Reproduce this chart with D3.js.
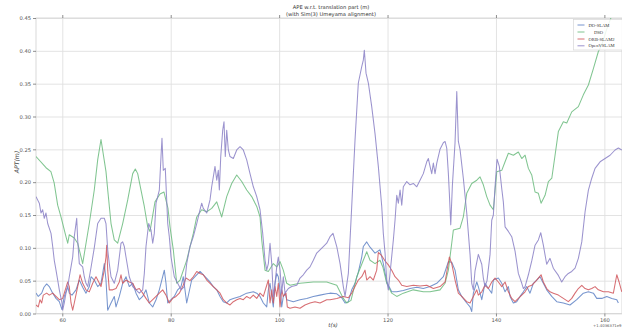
<!DOCTYPE html>
<html>
<head>
<meta charset="utf-8">
<script src="https://cdn.jsdelivr.net/npm/d3@7"></script>
<style>
  html, body { margin: 0; padding: 0; background: #fff; }
  svg { display: block; }
  text { font-family: "DejaVu Sans", sans-serif; }
</style>
</head>
<body>
<svg id="chart" width="622" height="328"></svg>
<script>
// ---- data: absolute pose error (m) over time (s), per method ----
const seriesNames = ["DO-SLAM", "DSO", "ORB-SLAM2", "OpenVSLAM"];
const xTicks = [60, 80, 100, 120, 140, 160];
const yTicks = [0, 0.05, 0.10, 0.15, 0.20, 0.25, 0.30, 0.35, 0.40, 0.45];

const doSlamT = [55.15,55.57,56.2,56.62,57.12,57.6,58.23,58.84,59.45,59.94,60.37,61.0,61.29,61.79,62.53,63.14,63.76,64.37,64.98,65.3,65.9,66.53,67.14,67.75,68.06,68.38,68.99,69.59,69.91,70.52,71.14,71.75,72.36,72.99,73.6,74.21,74.83,75.44,76.05,76.68,77.29,77.9,78.52,78.82,79.13,79.45,80.06,80.66,81.29,81.9,82.32,82.95,83.87,84.48,85.41,86.33,87.25,87.86,88.49,89.1,89.7,90.33,90.94,91.55,92.79,94.02,95.24,95.87,96.48,97.09,97.71,98.01,98.32,98.64,98.93,99.24,99.56,99.85,100.17,100.48,100.77,101.09,101.4,102.62,103.85,105.09,106.31,107.54,108.78,109.39,110.63,111.55,112.16,112.77,113.39,114.0,114.61,115.24,115.53,116.16,116.77,117.69,118.61,119.22,119.85,120.77,121.7,122.91,124.15,125.39,126.6,127.84,129.08,130.29,131.22,131.84,132.45,133.06,133.68,134.61,135.22,135.53,135.83,136.46,136.75,137.38,137.98,138.6,139.22,139.52,140.44,141.07,141.68,142.29,142.6,143.21,143.83,144.44,145.06,145.67,146.28,146.9,147.52,148.13,148.74,149.36,150.29,151.21,152.43,153.66,154.9,156.12,157.05,157.97,158.59,159.52,160.44,161.37,162.29,162.58];
const doSlamV = [0.031,0.026,0.031,0.040,0.045,0.041,0.031,0.023,0.018,0.006,0.026,0.041,0.031,0.028,0.036,0.051,0.040,0.031,0.041,0.056,0.051,0.041,0.046,0.076,0.051,0.005,0.016,0.026,0.010,0.026,0.046,0.056,0.041,0.046,0.031,0.021,0.026,0.036,0.016,0.010,0.021,0.036,0.056,0.066,0.046,0.016,0.021,0.026,0.036,0.041,0.056,0.016,0.051,0.056,0.064,0.056,0.048,0.041,0.036,0.026,0.018,0.016,0.021,0.023,0.026,0.031,0.033,0.031,0.026,0.016,0.010,0.036,0.046,0.026,0.010,0.046,0.061,0.056,0.036,0.010,0.026,0.031,0.021,0.018,0.021,0.023,0.026,0.028,0.030,0.031,0.030,0.024,0.016,0.018,0.036,0.046,0.063,0.086,0.102,0.109,0.101,0.092,0.097,0.076,0.048,0.033,0.033,0.035,0.038,0.040,0.038,0.041,0.046,0.056,0.079,0.078,0.066,0.036,0.026,0.016,0.010,0.003,0.031,0.048,0.041,0.021,0.046,0.038,0.031,0.051,0.054,0.046,0.033,0.041,0.026,0.016,0.018,0.026,0.033,0.041,0.031,0.046,0.051,0.056,0.046,0.036,0.026,0.018,0.016,0.013,0.021,0.031,0.033,0.031,0.023,0.023,0.026,0.023,0.021,0.016];

const dsoT = [55.15,57.0,57.9,58.5,59.15,59.76,60.68,61.0,61.29,62.21,62.84,63.14,63.76,64.98,65.9,66.53,67.14,68.06,68.38,68.99,69.59,70.22,71.14,72.07,72.99,73.47,73.91,74.52,75.13,75.76,76.18,77.1,78.02,78.76,79.5,79.87,80.48,81.11,81.72,82.95,84.17,84.8,85.72,86.64,87.56,88.49,89.41,90.33,91.25,92.18,93.1,94.02,94.94,95.87,96.48,96.79,97.4,98.01,98.93,99.56,100.17,100.77,101.4,102.01,103.85,106.31,108.78,110.63,111.84,112.47,113.26,114.32,115.53,116.16,116.77,117.69,118.61,119.17,119.85,120.77,121.7,122.91,124.76,126.6,127.84,129.68,130.61,131.22,131.84,132.14,133.37,133.98,134.61,135.53,136.46,137.06,137.67,138.3,138.91,139.52,140.15,141.07,141.68,142.29,143.21,144.13,144.76,145.37,145.98,146.6,147.21,147.82,148.32,149.06,149.67,150.3,150.9,151.51,152.43,153.06,153.98,155.2,156.12,157.05,157.97,158.89,159.52,160.31,161.42];
const dsoV = [0.239,0.222,0.216,0.199,0.165,0.147,0.117,0.107,0.120,0.115,0.107,0.097,0.076,0.137,0.188,0.234,0.265,0.216,0.188,0.137,0.112,0.107,0.137,0.173,0.213,0.220,0.213,0.188,0.163,0.132,0.125,0.170,0.182,0.185,0.160,0.132,0.097,0.046,0.051,0.081,0.122,0.147,0.158,0.155,0.160,0.170,0.147,0.178,0.198,0.211,0.201,0.188,0.178,0.163,0.147,0.112,0.066,0.064,0.076,0.071,0.079,0.066,0.046,0.043,0.046,0.048,0.048,0.043,0.023,0.016,0.020,0.056,0.081,0.094,0.081,0.076,0.081,0.070,0.046,0.031,0.026,0.031,0.036,0.033,0.033,0.036,0.046,0.066,0.107,0.127,0.130,0.147,0.183,0.198,0.203,0.208,0.196,0.178,0.165,0.158,0.216,0.218,0.231,0.244,0.241,0.246,0.236,0.241,0.221,0.211,0.185,0.183,0.168,0.180,0.201,0.206,0.241,0.277,0.292,0.290,0.307,0.315,0.333,0.348,0.373,0.399,0.409,0.430,0.455];

const orbT = [55.15,55.57,55.89,56.2,56.49,57.12,57.6,58.23,58.84,59.45,60.07,60.55,61.0,61.29,61.61,61.92,62.21,62.84,63.27,63.76,64.37,64.98,65.61,66.22,67.14,67.75,68.06,68.19,68.38,68.67,69.3,69.91,70.52,70.83,71.14,71.75,72.36,72.99,73.6,74.21,74.83,75.44,76.05,76.68,77.29,77.9,78.52,79.13,79.74,80.37,80.98,81.59,82.21,82.82,83.56,84.17,84.8,85.41,86.01,86.64,87.25,87.86,88.49,89.1,89.7,90.33,90.94,91.55,92.18,92.79,93.39,94.02,94.63,95.24,95.87,96.48,97.09,98.01,98.32,98.64,98.93,99.24,99.56,99.85,100.17,100.48,100.77,101.27,101.51,102.01,102.93,103.85,104.77,105.7,106.62,107.54,108.78,109.39,110.63,111.84,112.77,113.39,114.0,114.61,115.24,115.84,116.16,116.77,117.38,118.0,118.3,118.93,119.54,120.15,120.77,121.38,121.99,122.62,123.54,124.76,125.99,127.23,128.45,129.68,130.61,131.4,131.84,132.45,133.06,133.68,134.61,135.22,135.83,136.46,136.75,137.38,137.98,138.6,139.22,139.83,140.44,141.07,141.68,142.29,142.91,143.52,144.13,144.76,145.37,145.98,146.6,147.21,147.82,148.32,148.74,149.36,149.97,150.58,151.51,152.43,153.35,153.98,154.59,155.2,155.83,156.44,157.05,157.67,158.28,158.89,159.82,160.74,161.66,162.29,162.71,163.21];
const orbV = [0.013,0.010,0.021,0.016,0.028,0.031,0.028,0.031,0.026,0.021,0.023,0.036,0.048,0.041,0.016,0.005,0.016,0.041,0.059,0.046,0.036,0.033,0.046,0.056,0.041,0.066,0.086,0.104,0.066,0.036,0.036,0.038,0.048,0.059,0.046,0.051,0.048,0.046,0.036,0.038,0.031,0.023,0.016,0.021,0.026,0.031,0.036,0.028,0.016,0.023,0.026,0.031,0.041,0.054,0.050,0.056,0.064,0.061,0.059,0.051,0.046,0.041,0.036,0.031,0.021,0.016,0.013,0.018,0.021,0.023,0.021,0.026,0.023,0.028,0.023,0.031,0.026,0.051,0.016,0.036,0.016,0.041,0.026,0.046,0.010,0.036,0.026,0.031,0.010,0.008,0.010,0.008,0.013,0.016,0.018,0.016,0.021,0.021,0.023,0.026,0.024,0.031,0.041,0.051,0.056,0.066,0.051,0.056,0.051,0.066,0.093,0.088,0.080,0.074,0.066,0.056,0.051,0.043,0.041,0.043,0.042,0.043,0.038,0.041,0.048,0.086,0.076,0.051,0.031,0.026,0.018,0.016,0.026,0.036,0.028,0.033,0.043,0.038,0.048,0.054,0.048,0.041,0.048,0.033,0.023,0.018,0.023,0.028,0.033,0.041,0.043,0.048,0.054,0.059,0.048,0.038,0.033,0.031,0.028,0.023,0.018,0.023,0.031,0.038,0.043,0.038,0.036,0.038,0.041,0.036,0.033,0.033,0.031,0.059,0.048,0.033];

const ovT = [55.15,55.76,56.07,56.38,56.68,56.99,57.31,57.92,58.23,58.52,58.84,59.15,59.45,59.94,60.07,60.37,60.68,61.0,61.29,61.61,61.92,62.21,62.66,62.84,63.14,63.76,64.06,64.37,64.69,65.3,65.9,66.53,67.14,67.75,68.06,68.38,68.67,68.99,69.59,70.22,70.83,71.14,71.44,71.75,72.36,72.99,73.6,74.21,74.83,75.13,75.44,75.94,76.37,76.68,76.97,77.29,77.6,77.9,78.21,78.39,78.63,79.0,79.45,79.74,80.06,80.66,81.29,81.9,82.51,82.95,83.56,84.17,84.8,85.09,85.41,85.72,86.01,86.64,87.25,87.56,87.86,88.17,88.49,88.78,88.97,89.23,89.59,89.83,90.07,90.33,90.63,90.94,91.55,92.18,92.79,93.39,94.02,94.63,95.24,95.87,96.48,96.97,97.4,97.71,98.01,98.32,98.64,98.93,99.24,99.56,99.85,100.17,100.48,100.77,101.09,101.7,102.32,103.25,103.85,104.46,105.09,105.7,106.31,106.93,107.54,108.15,108.78,109.39,109.94,110.63,111.24,111.84,112.16,112.77,113.39,114.0,114.61,115.24,115.53,115.72,116.03,116.46,117.08,117.69,118.3,118.93,119.22,119.54,119.85,120.15,120.46,121.07,121.38,121.7,121.99,122.31,122.62,122.91,123.54,124.15,124.76,125.39,125.99,126.6,127.23,127.53,127.84,128.15,128.45,128.76,129.08,129.68,130.29,130.61,130.92,131.22,131.4,131.66,131.96,132.45,132.77,133.06,133.37,133.98,134.61,135.22,135.53,135.83,136.14,136.75,137.38,137.67,137.98,138.35,138.91,139.22,139.52,139.83,140.2,140.62,141.07,141.36,141.68,142.29,142.91,143.52,144.13,144.76,145.06,145.37,145.98,146.6,147.21,147.82,148.26,148.74,149.36,149.97,150.58,151.51,152.13,152.74,153.35,153.98,154.59,155.2,155.83,156.44,157.05,157.67,158.28,159.21,160.13,161.05,161.97,162.58,163.21];
const ovV = [0.178,0.168,0.153,0.158,0.145,0.153,0.137,0.122,0.102,0.081,0.066,0.051,0.036,0.016,0.005,0.016,0.031,0.041,0.056,0.071,0.086,0.117,0.145,0.112,0.076,0.071,0.056,0.046,0.041,0.070,0.100,0.137,0.145,0.145,0.137,0.097,0.076,0.056,0.046,0.066,0.107,0.109,0.102,0.086,0.056,0.041,0.036,0.031,0.036,0.061,0.102,0.137,0.127,0.107,0.122,0.168,0.178,0.188,0.239,0.267,0.218,0.221,0.137,0.117,0.086,0.056,0.046,0.036,0.041,0.076,0.102,0.117,0.137,0.147,0.158,0.168,0.160,0.153,0.173,0.193,0.208,0.224,0.203,0.218,0.188,0.239,0.279,0.292,0.239,0.279,0.249,0.239,0.236,0.249,0.254,0.249,0.234,0.213,0.193,0.178,0.158,0.122,0.081,0.066,0.076,0.107,0.076,0.026,0.046,0.071,0.086,0.066,0.031,0.056,0.031,0.038,0.041,0.043,0.054,0.059,0.066,0.071,0.081,0.092,0.097,0.102,0.107,0.117,0.122,0.102,0.076,0.041,0.026,0.061,0.163,0.264,0.351,0.376,0.386,0.401,0.366,0.351,0.315,0.274,0.224,0.163,0.122,0.092,0.051,0.036,0.061,0.112,0.142,0.180,0.168,0.188,0.165,0.193,0.201,0.196,0.198,0.193,0.203,0.213,0.231,0.236,0.224,0.213,0.229,0.213,0.229,0.250,0.260,0.262,0.252,0.213,0.183,0.135,0.195,0.260,0.338,0.262,0.250,0.206,0.153,0.090,0.046,0.036,0.065,0.090,0.075,0.054,0.041,0.050,0.090,0.142,0.150,0.193,0.235,0.224,0.190,0.170,0.132,0.125,0.117,0.095,0.061,0.046,0.038,0.041,0.059,0.080,0.104,0.112,0.123,0.104,0.075,0.084,0.069,0.058,0.048,0.056,0.061,0.064,0.069,0.084,0.109,0.155,0.188,0.206,0.221,0.231,0.236,0.241,0.249,0.252,0.249];

const series = [
  { name: seriesNames[0], t: doSlamT, v: doSlamV, color: "#5f82c6" },
  { name: seriesNames[1], t: dsoT,    v: dsoV,    color: "#6bbb7e" },
  { name: seriesNames[2], t: orbT,    v: orbV,    color: "#d0555b" },
  { name: seriesNames[3], t: ovT,     v: ovV,     color: "#8a80c6" }
];

// ---- layout ----
const svg = d3.select("#chart");
const plot = { left: 36, right: 622, top: 18, bottom: 313.5 };

const x = d3.scaleLinear().domain([55.15, 163.25]).range([plot.left, plot.right]);
const y = d3.scaleLinear().domain([0, 0.45]).range([plot.bottom, plot.top]);

svg.append("defs").append("clipPath").attr("id", "plotClip")
  .append("rect")
  .attr("x", plot.left).attr("y", plot.top)
  .attr("width", plot.right - plot.left).attr("height", plot.bottom - plot.top);

// grid
const grid = svg.append("g").attr("class", "grid");
grid.append("g")
  .attr("transform", `translate(0,${plot.bottom})`)
  .call(d3.axisBottom(x).tickValues(xTicks).tickSize(-(plot.bottom - plot.top)).tickFormat(""))
  .call(g => g.select(".domain").remove())
  .call(g => g.selectAll("line").attr("stroke", "#e0e0e0").attr("stroke-width", 0.9));
grid.append("g")
  .attr("transform", `translate(${plot.left},0)`)
  .call(d3.axisLeft(y).tickValues(yTicks).tickSize(-(plot.right - plot.left)).tickFormat(""))
  .call(g => g.select(".domain").remove())
  .call(g => g.selectAll("line").attr("stroke", "#e0e0e0").attr("stroke-width", 0.9));

// frame
svg.append("rect")
  .attr("x", plot.left).attr("y", plot.top)
  .attr("width", plot.right - plot.left).attr("height", plot.bottom - plot.top)
  .attr("fill", "none").attr("stroke", "#d6d6d6").attr("stroke-width", 0.9);

// lines
const line = d3.line().x(d => x(d[0])).y(d => y(d[1]));
const lines = svg.append("g").attr("clip-path", "url(#plotClip)");
series.forEach(s => {
  const pts = s.t.map((t, i) => [t, s.v[i]]);
  lines.append("path")
    .datum(pts)
    .attr("d", line)
    .attr("fill", "none")
    .attr("stroke", s.color)
    .attr("stroke-width", 1.05)
    .attr("stroke-opacity", 0.85)
    .attr("stroke-linejoin", "round");
});

// axes (ticks + labels)
const tickColor = "#444";
const xAxis = svg.append("g")
  .attr("transform", `translate(0,${plot.bottom})`)
  .call(d3.axisBottom(x).tickValues(xTicks).tickSize(3).tickPadding(2).tickFormat(d3.format("d")));
xAxis.select(".domain").remove();
xAxis.selectAll("line").attr("stroke", tickColor).attr("stroke-width", 0.6);
xAxis.selectAll("text").attr("fill", "#555").style("font-size", "5.2px").style("font-family", "DejaVu Sans");

const xTop = svg.append("g")
  .attr("transform", `translate(0,${plot.top})`)
  .call(d3.axisTop(x).tickValues(xTicks).tickSize(3).tickFormat(""));
xTop.select(".domain").remove();
xTop.selectAll("line").attr("stroke", tickColor).attr("stroke-width", 0.6);

const yAxis = svg.append("g")
  .attr("transform", `translate(${plot.left},0)`)
  .call(d3.axisLeft(y).tickValues(yTicks).tickSize(3).tickPadding(2).tickFormat(d3.format(".2f")));
yAxis.select(".domain").remove();
yAxis.selectAll("line").attr("stroke", tickColor).attr("stroke-width", 0.6);
yAxis.selectAll("text").attr("fill", "#555").style("font-size", "5.2px").style("font-family", "DejaVu Sans");

// offset label for the time axis
svg.append("text")
  .attr("x", 621.5).attr("y", 326.5)
  .attr("text-anchor", "end")
  .attr("fill", "#555")
  .style("font-size", "3.8px")
  .text("+1.4036371e9");

// axis titles
svg.append("text")
  .attr("x", 333).attr("y", 326.8)
  .attr("text-anchor", "middle")
  .attr("fill", "#444")
  .style("font-size", "5.6px")
  .style("font-style", "italic")
  .text("t(s)");

svg.append("text")
  .attr("transform", `translate(19,162) rotate(-90)`)
  .attr("text-anchor", "middle")
  .attr("fill", "#444")
  .style("font-size", "6.2px")
  .style("font-style", "italic")
  .text("APT(m)");

// title
svg.append("text")
  .attr("x", 331).attr("y", 9)
  .attr("text-anchor", "middle")
  .attr("fill", "#333")
  .style("font-size", "5.2px")
  .text("APE w.r.t. translation part (m)");
svg.append("text")
  .attr("x", 331).attr("y", 16)
  .attr("text-anchor", "middle")
  .attr("fill", "#333")
  .style("font-size", "5.2px")
  .text("(with Sim(3) Umeyama alignment)");

// legend
const legend = svg.append("g");
legend.append("rect")
  .attr("x", 573.5).attr("y", 19.5)
  .attr("width", 60).attr("height", 30.5)
  .attr("fill", "#fff").attr("fill-opacity", 0.85)
  .attr("stroke", "#d8d8d8").attr("stroke-width", 0.7);
const legendRows = [25, 32, 39, 45.8];
const legendTextX = [588.5, 594, 588.5, 588.5];
series.forEach((s, i) => {
  legend.append("line")
    .attr("x1", 577.5).attr("x2", 584.5)
    .attr("y1", legendRows[i]).attr("y2", legendRows[i])
    .attr("stroke", s.color).attr("stroke-width", 1).attr("stroke-opacity", 0.85);
  legend.append("text")
    .attr("x", legendTextX[i]).attr("y", legendRows[i] + 1.6)
    .attr("fill", "#333")
    .style("font-family", "'Liberation Serif', serif")
    .style("font-size", "4.6px")
    .text(s.name);
});
</script>
</body>
</html>
